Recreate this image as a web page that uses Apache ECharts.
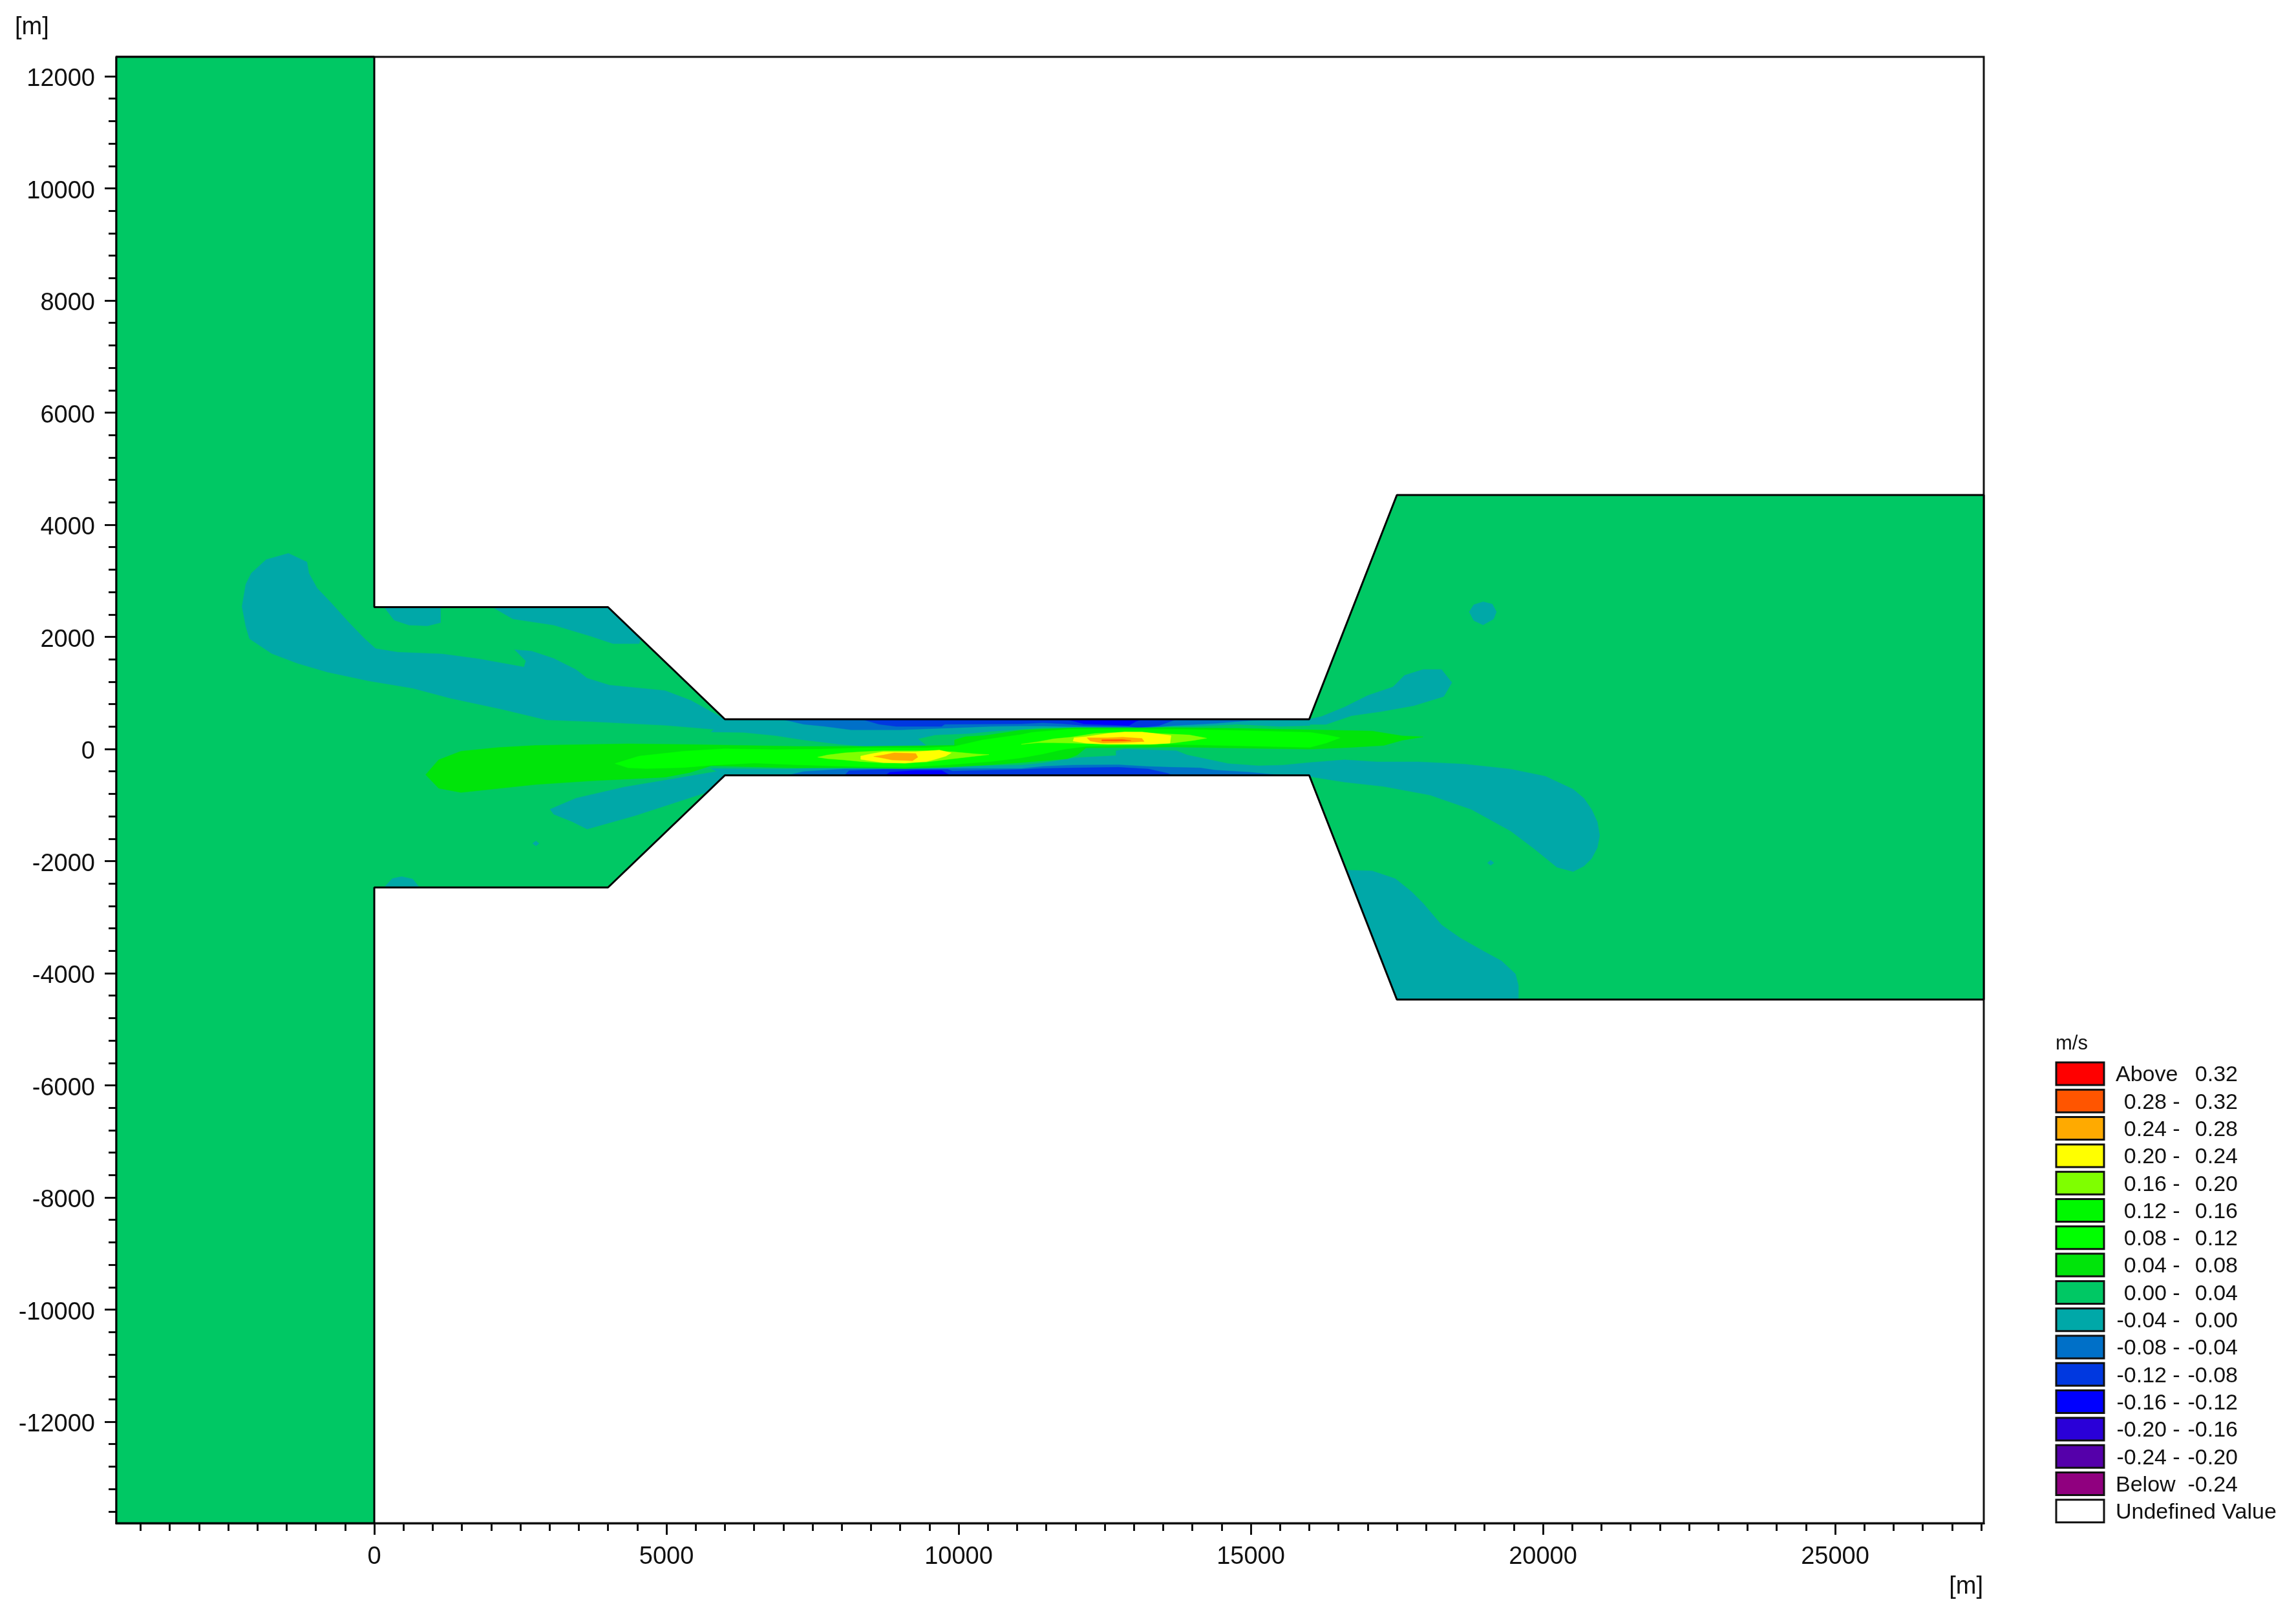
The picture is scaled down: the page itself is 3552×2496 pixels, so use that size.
<!DOCTYPE html>
<html>
<head>
<meta charset="utf-8">
<title>m/s contour</title>
<style>
  html, body { margin: 0; padding: 0; background: #fff; }
  #main { width: 3552px; height: 2496px; }
</style>
<script src="https://cdn.jsdelivr.net/npm/echarts@6/dist/echarts.min.js"></script>
</head>
<body>
<div id="main"></div>
<script>
// axis ranges and ticks, metres
const xMin = -4414, xMax = 27544, yMin = -13810, yMax = 12346;
const xMajor = [0, 5000, 10000, 15000, 20000, 25000];
const yMajor = [12000, 10000, 8000, 6000, 4000, 2000, 0, -2000, -4000, -6000, -8000, -10000, -12000];
const xMinor = [];
for (let v = -4000; v <= 27500; v += 500) xMinor.push(v);
const yMinor = [];
for (let v = -13600; v <= 12000; v += 400) yMinor.push(v);

// legend
const legendColors = ['#ff0000', '#ff5500', '#ffaa00', '#ffff00', '#7fff00', '#00f800', '#00ff00', '#00e40a',
  '#00c864', '#00a8a8', '#0070c8', '#0038e0', '#0000ff', '#2a00d8', '#5500aa', '#90007f', '#ffffff'];
const legendLow = ['Above', '0.28', '0.24', '0.20', '0.16', '0.12', '0.08', '0.04', '0.00',
  '-0.04', '-0.08', '-0.12', '-0.16', '-0.20', '-0.24', 'Below', 'Undefined Value'];
const legendHigh = ['0.32', '0.32', '0.28', '0.24', '0.20', '0.16', '0.12', '0.08', '0.04',
  '0.00', '-0.04', '-0.08', '-0.12', '-0.16', '-0.20', '-0.24', ''];

// model domain, [x, y] in metres
const domainOutline = [[-4414, 12346], [0, 12346], [0, 2530], [4000, 2530], [6000, 530], [16000, 530], [17500, 4530],
  [27544, 4530], [27544, -4470], [17500, -4470], [16000, -470], [6000, -470], [4000, -2470], [0, -2470],
  [0, -13810], [-4414, -13810], [-4414, 12346]];

// -0.04 - 0.00
const plumeNorthWest = [[-1469, 3489], [-1152, 3335], [-1120, 3136], [-980, 2871], [-739, 2607], [-453, 2276], [-167, 1967],
  [23, 1791], [404, 1725], [1166, 1694], [1801, 1605], [2563, 1460], [2595, 1570], [2404, 1769], [2690, 1747], [3071, 1614],
  [3452, 1416], [3643, 1261], [4024, 1138], [4976, 1041], [5421, 864], [6000, 530], [7313, 530], [7313, 203], [6246, 313],
  [4976, 423], [3706, 489], [2944, 520], [2182, 710], [1293, 908], [658, 1085], [-104, 1217], [-802, 1372], [-1310, 1526],
  [-1755, 1702], [-2136, 1967], [-2199, 2188], [-2263, 2541], [-2199, 2938], [-2104, 3136], [-1850, 3379]];
const channelTop = [[6000, 530], [16000, 530], [16013, 419], [15496, 403], [14759, 442], [14022, 403], [13653, 403], [12547, 380],
  [11441, 380], [11072, 353], [10556, 315], [10187, 277], [9597, 250], [9302, 181], [9450, 58], [8418, 46], [7975, 84],
  [7348, 161], [6869, 238], [6316, 296], [5763, 304]];
const channelBottom = [[5763, -350], [7053, -357], [8049, -327], [9819, -311], [11072, -288], [11441, -250], [11994, -158],
  [12695, -119], [12695, -31], [12842, -4], [13727, -31], [13911, -108], [14317, -196], [14612, -261], [15128, -300],
  [15559, -288], [16013, -242], [16604, -194], [17157, -230], [17869, -230], [18659, -271], [19449, -359], [20042, -488],
  [20516, -719], [20700, -880], [20832, -1079], [20930, -1300], [20970, -1542], [20930, -1760], [20832, -1954], [20700, -2090],
  [20516, -2186], [20239, -2109], [19844, -1774], [19449, -1465],
  [18777, -1079], [18066, -822], [17276, -668], [16604, -590], [16051, -500], [16000, -470], [6000, -470]];
const plumeSouthWest = [[3008, -1076], [3452, -878], [4278, -679], [5167, -525], [5865, -400], [6000, -350], [6000, -470], [5700, -770],
  [4468, -1187], [3643, -1429], [3389, -1297], [3071, -1165]];
const plumeNorthEast = [[16000, 530], [16209, 578], [16604, 747], [17000, 953], [17434, 1108], [17632, 1314], [17948, 1417], [18264, 1417],
  [18441, 1185], [18303, 938], [17790, 773], [17236, 670], [16723, 593], [16288, 439], [16012, 439]];
const patchSouthEast = [[16634, -2160], [17078, -2175], [17474, -2314], [17750, -2546], [17948, -2752], [18264, -3138], [18580, -3369],
  [18975, -3601], [19291, -3781], [19528, -4012], [19580, -4218], [19580, -4470], [17500, -4470]];
const wallPatchA = [[169, 2530], [1134, 2530], [1134, 2254], [912, 2197], [595, 2210], [341, 2298]];
const wallPatchB = [[2023, 2530], [4000, 2530], [4560, 1970], [4532, 1879], [4087, 1879], [3706, 2011], [3071, 2210], [2373, 2320]];
const wallPatchC = [[169, -2470], [309, -2312], [468, -2276], [658, -2320], [772, -2470]];
const ovalEast = [[18738, 2446], [18817, 2574], [18975, 2626], [19133, 2585], [19204, 2446], [19153, 2317], [18975, 2214], [18817, 2291]];
const dotWest = [[2710, -1685], [2766, -1640], [2820, -1685], [2766, -1730]];
const dotEast = [[19050, -2031], [19105, -1985], [19160, -2031], [19105, -2075]];

// channel walls, negative bands
const topMinus08 = [[6980, 530], [7348, 442], [7717, 403], [8160, 342], [9008, 342], [9782, 373], [10556, 403], [11072, 411], [11441, 411],
  [12178, 392], [13137, 373], [13690, 419], [14391, 457], [15239, 530]];
const topMinus12 = [[8344, 530], [8639, 442], [8934, 403], [9708, 403], [9763, 442], [11072, 449], [11441, 469], [11810, 449], [12141, 419],
  [12916, 403], [13063, 380], [13432, 419], [13727, 530]];
const topMinus16 = [[11846, 530], [12141, 449], [12916, 419], [13026, 488], [13137, 530]];
const bottomMinus08 = [[7072, -470], [7348, -403], [8049, -357], [9819, -350], [11072, -350], [11441, -311], [11957, -288], [12731, -281],
  [13211, -311], [13653, -327], [14132, -338], [14391, -377], [14981, -415], [15534, -470]];
const bottomMinus12 = [[8049, -470], [8123, -388], [8713, -365], [9819, -365], [9892, -396], [11072, -365], [11404, -350], [11994, -338],
  [12731, -327], [13248, -357], [13579, -434], [13653, -470]];
const bottomMinus16 = [[8749, -470], [8823, -415], [9266, -384], [9708, -384], [9855, -470]];

// jet, positive bands
const jet004 = [[880, -459], [1102, -194], [1483, -40], [2118, 26], [2753, 62], [4341, 92], [5484, 79], [7238, 46], [8418, 46], [9450, 58],
  [9930, 65], [9930, 161], [10114, 219], [10445, 238], [11072, 334], [11994, 380], [13653, 380], [14907, 365], [16013, 342], [17078, 320],
  [17592, 233], [17948, 217], [17592, 156], [17276, 63], [16683, 27], [16013, -4], [13653, 35], [12178, 19], [12031, -108], [11865, -173],
  [11441, -211], [11072, -242], [10556, -281], [9819, -327], [9081, -350], [8160, -338], [7238, -338], [6500, -319], [5763, -300],
  [5400, -420], [4976, -503], [3706, -569], [2753, -635], [1483, -776], [1102, -701]];
const jet008 = [[4119, -260], [4532, -128], [5294, -40], [5992, 4], [6869, -12], [7607, -4], [8418, 19], [9450, 19], [9930, 46], [10409, 161],
  [11072, 257], [11257, 296], [11883, 353], [13653, 353], [14612, 334], [16013, 296], [16300, 250], [16530, 200], [16300, 110], [16013, 30],
  [13653, 84], [12178, 46], [11810, -4], [11441, -88], [11072, -158], [10556, -223], [9819, -281], [9081, -327], [8160, -311], [7238, -281],
  [6500, -250], [5763, -290], [5294, -330], [4659, -349], [4341, -335]];
const jetOne016 = [[7588, -146], [7754, -108], [8049, -69], [8344, -50], [8713, -31], [9450, -31], [9892, -50], [10298, -88], [10519, -100],
  [10298, -127], [9819, -184], [9450, -234], [8713, -250], [8307, -223], [8049, -196], [7754, -173]];
const jetTwo016 = [[11073, 85], [11368, 131], [11626, 181], [11921, 211], [12327, 277], [12843, 303], [13654, 265], [13949, 250], [14244, 192],
  [14023, 154], [13654, 104], [13285, 85], [12548, 85], [11958, 104], [11626, 111], [11368, 111]];
const jetOne020 = [[8325, -127], [8491, -88], [8713, -50], [9266, -50], [9671, -19], [9874, -69], [9782, -127], [9597, -184], [9450, -223],
  [9081, -254], [8713, -242], [8491, -211], [8325, -184]];
const jetTwo020 = [[11976, 200], [12179, 219], [12548, 277], [12843, 303], [13138, 303], [13359, 277], [13635, 238], [13617, 104], [13285, 85],
  [12548, 85], [12179, 104], [11958, 142]];
const jetOne024 = [[8547, -134], [8713, -108], [8897, -69], [9266, -81], [9302, -146], [9210, -211], [8860, -196], [8713, -165]];
const jetTwo024 = [[12198, 200], [12548, 200], [12806, 211], [13138, 188], [13175, 134], [12843, 115], [12474, 104], [12253, 142]];
const jetTwo028 = [[12450, 165], [12800, 170], [12950, 150], [12700, 140], [12450, 145]];

// paint order, index into legendColors
const contourBands = [
  [8, [domainOutline]],
  [9, [plumeNorthWest, channelTop, channelBottom, plumeSouthWest, plumeNorthEast, patchSouthEast,
    wallPatchA, wallPatchB, wallPatchC, ovalEast, dotWest, dotEast]],
  [10, [topMinus08, bottomMinus08]],
  [11, [topMinus12, bottomMinus12]],
  [12, [topMinus16, bottomMinus16]],
  [7, [jet004]],
  [6, [jet008]],
  [4, [jetOne016, jetTwo016]],
  [3, [jetOne020, jetTwo020]],
  [2, [jetOne024, jetTwo024]],
  [1, [jetTwo028]]
];

const contourItems = [];
contourBands.forEach(function (band) {
  band[1].forEach(function (ring) {
    contourItems.push({ color: legendColors[band[0]], ring: ring });
  });
});

const textFont = '"Liberation Sans", Arial, sans-serif';
const inkColor = '#111111';

function labelText(text, x, y, size, align) {
  return {
    type: 'text',
    silent: true,
    style: { text: text, x: x, y: y, fontSize: size, fontFamily: textFont, fill: inkColor, align: align, verticalAlign: 'middle' }
  };
}

const graphics = [
  labelText('[m]', 23, 43, 38, 'left'),
  labelText('[m]', 3068, 2456, 38, 'right'),
  labelText('m/s', 3180, 1615, 31, 'left')
];
legendLow.forEach(function (low, i) {
  const top = 1644 + i * 42.3;
  graphics.push({
    type: 'rect',
    silent: true,
    shape: { x: 3181, y: top, width: 74, height: 35 },
    style: { fill: legendColors[i], stroke: inkColor, lineWidth: 3 }
  });
  const isWord = /[a-z]/i.test(low);
  graphics.push(labelText(low, isWord ? 3273 : 3352, top + 20, 34, isWord ? 'left' : 'right'));
  if (legendHigh[i]) {
    graphics.push(labelText(legendHigh[i], 3462, top + 20, 34, 'right'));
  }
  if (!isWord) {
    graphics.push(labelText('-', 3367, top + 20, 34, 'center'));
  }
});

function axisLineStyle() {
  return { show: true, onZero: false, lineStyle: { color: inkColor, width: 3 } };
}

function majorAxis(position, min, max, ticks) {
  const label = {
    show: true,
    customValues: ticks,
    margin: position === 'bottom' ? 34 : 33,
    color: inkColor,
    fontSize: 38,
    fontFamily: textFont,
    formatter: function (v) { return String(v); }
  };
  if (position === 'left') {
    // sits a little below the tick in the reference
    label.verticalAlign = 'top';
    label.lineHeight = 10;
  }
  return {
    type: 'value',
    position: position,
    min: min,
    max: max,
    splitLine: { show: false },
    axisLine: axisLineStyle(),
    axisTick: { show: true, length: 18, customValues: ticks, lineStyle: { color: inkColor, width: 3 } },
    axisLabel: label
  };
}

function minorAxis(position, min, max, ticks) {
  return {
    type: 'value',
    position: position,
    min: min,
    max: max,
    splitLine: { show: false },
    axisLine: axisLineStyle(),
    axisLabel: { show: false },
    axisTick: { show: true, length: 12, customValues: ticks, lineStyle: { color: inkColor, width: 3 } }
  };
}

const chart = echarts.init(document.getElementById('main'), null, { renderer: 'canvas' });
chart.setOption({
  animation: false,
  backgroundColor: '#ffffff',
  grid: { left: 180, top: 88, width: 2889, height: 2269, show: true, backgroundColor: '#ffffff', borderColor: inkColor, borderWidth: 3 },
  xAxis: [majorAxis('bottom', xMin, xMax, xMajor), minorAxis('bottom', xMin, xMax, xMinor)],
  yAxis: [majorAxis('left', yMin, yMax, yMajor), minorAxis('left', yMin, yMax, yMinor)],
  graphic: graphics,
  series: [
    {
      type: 'custom',
      silent: true,
      coordinateSystem: 'cartesian2d',
      data: contourItems.map(function (item, i) { return [item.ring[0][0], item.ring[0][1], i]; }),
      renderItem: function (params, api) {
        const item = contourItems[api.value(2)];
        return {
          type: 'polygon',
          shape: { points: item.ring.map(function (p) { return api.coord(p); }) },
          style: { fill: item.color, stroke: item.color, lineWidth: 0.5 }
        };
      }
    },
    {
      type: 'line',
      silent: true,
      data: domainOutline,
      symbol: 'none',
      clip: false,
      z: 5,
      lineStyle: { color: '#000000', width: 3 }
    }
  ]
});
</script>
</body>
</html>
